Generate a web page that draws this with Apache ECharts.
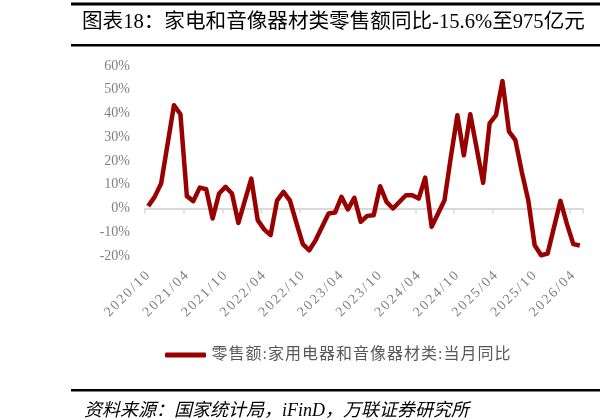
<!DOCTYPE html>
<html>
<head>
<meta charset="utf-8">
<script src="https://cdn.jsdelivr.net/npm/echarts@6/dist/echarts.min.js"></script>
<style>
  html, body { margin: 0; padding: 0; background: #fff; }
  #chart { width: 600px; height: 420px; }
</style>
</head>
<body>
<div id="chart"></div>
<script>
// months on the x axis (January folded into Jan-Feb, so Jan has no value)
const months = [
  '2020/10', '2020/11', '2020/12',
  '2021/01', '2021/02', '2021/03', '2021/04', '2021/05', '2021/06', '2021/07', '2021/08', '2021/09', '2021/10', '2021/11', '2021/12',
  '2022/01', '2022/02', '2022/03', '2022/04', '2022/05', '2022/06', '2022/07', '2022/08', '2022/09', '2022/10', '2022/11', '2022/12',
  '2023/01', '2023/02', '2023/03', '2023/04', '2023/05', '2023/06', '2023/07', '2023/08', '2023/09', '2023/10', '2023/11', '2023/12',
  '2024/01', '2024/02', '2024/03', '2024/04', '2024/05', '2024/06', '2024/07', '2024/08', '2024/09', '2024/10', '2024/11', '2024/12',
  '2025/01', '2025/02', '2025/03', '2025/04', '2025/05', '2025/06', '2025/07', '2025/08', '2025/09', '2025/10', '2025/11', '2025/12',
  '2026/01', '2026/02', '2026/03', '2026/04', '2026/05'
]

// 当月同比 (%)
const yoy2020 = [1.0, 4.9, 10.5]
const yoy2021 = [null, 43.5, 39.7, 5.2, 3.1, 8.8, 8.1, -4.2, 6.3, 9.1, 6.3, -6.1]
const yoy2022 = [null, 12.6, -4.9, -8.8, -11.2, 3.3, 7.0, 3.3, -6.0, -15.0, -17.6, -13.3]
const yoy2023 = [null, -2.1, -1.7, 4.9, -0.4, 4.5, -5.6, -3.1, -2.8, 9.4, 2.8, 0.0]
const yoy2024 = [null, 5.6, 5.6, 4.2, 13.0, -7.7, -2.1, 3.5, 22.0, 39.3, 22.4, 39.7]
const yoy2025 = [null, 10.8, 35.8, 39.3, 53.7, 32.5, 28.8, 15.4, 3.5, -15.5, -19.7, -19.0]
const yoy2026 = [null, 3.2, -6.5, -15.0, -15.6]

const seriesName = '零售额:家用电器和音像器材类:当月同比'
const yoy = [].concat(yoy2020, yoy2021, yoy2022, yoy2023, yoy2024, yoy2025, yoy2026)

const chart = echarts.init(document.getElementById('chart'))
const grey = '#7f7f7f'
const serif = '"Liberation Serif", "Noto Sans CJK SC", serif'

// spread the characters a little, like the original typeset labels
function spaced(text) {
  return text.split('').map(c => `{c|${c}}`).join('')
}

chart.setOption({
  animation: false,
  grid: { left: 145, right: 17, top: 66, bottom: 164, containLabel: false },
  legend: {
    data: [seriesName],
    left: 165,
    top: 347,
    padding: 0,
    icon: 'roundRect',
    itemWidth: 41,
    itemHeight: 5,
    formatter: spaced,
    textStyle: {
      rich: { c: { color: '#595959', fontSize: 16, fontFamily: serif, padding: [0, 0.5] } },
    },
  },
  xAxis: [
    {
      type: 'category',
      data: months,
      boundaryGap: true,
      axisLine: { onZero: true, lineStyle: { color: '#d9d9d9', width: 2 } },
      axisTick: { show: true, interval: 5, length: 5, lineStyle: { color: '#d9d9d9', width: 1.5 } },
      axisLabel: { show: false },
      splitLine: { show: false },
    },
    {
      type: 'category',
      data: months,
      position: 'bottom',
      boundaryGap: true,
      axisLine: { show: false, onZero: false },
      axisTick: { show: false },
      axisLabel: {
        interval: 5,
        rotate: 45,
        margin: 17,
        formatter: spaced,
        rich: { c: { color: grey, fontSize: 14, fontFamily: serif, padding: [0, 1] } },
      },
      splitLine: { show: false },
    },
  ],
  yAxis: {
    type: 'value',
    min: -20,
    max: 60,
    interval: 10,
    axisLine: { show: false },
    axisTick: { show: false },
    splitLine: { show: false },
    axisLabel: { formatter: '{value}%', color: grey, fontSize: 14, fontFamily: serif, margin: 15 },
  },
  series: [
    {
      name: seriesName,
      type: 'line',
      xAxisIndex: 0,
      data: yoy,
      connectNulls: true,
      showSymbol: false,
      symbol: 'none',
      color: '#990000',
      lineStyle: { color: '#990000', width: 4.5, join: 'round' },
    },
  ],
  graphic: [
    { type: 'rect', shape: { x: 71, y: 2.5, width: 529, height: 3 }, style: { fill: '#000' } },
    { type: 'rect', shape: { x: 71, y: 44, width: 529, height: 2.5 }, style: { fill: '#000' } },
    { type: 'rect', shape: { x: 71, y: 389, width: 529, height: 2.5 }, style: { fill: '#000' } },
    {
      type: 'text', left: 82, top: 12,
      style: { text: '图表18：家电和音像器材类零售额同比-15.6%至975亿元', fill: '#000', font: '20.6px ' + serif },
    },
    {
      type: 'text', left: 84, top: 402,
      style: { text: '资料来源：国家统计局，iFinD，万联证券研究所', fill: '#000', font: 'italic 18px ' + serif },
    },
  ],
})
</script>
</body>
</html>
